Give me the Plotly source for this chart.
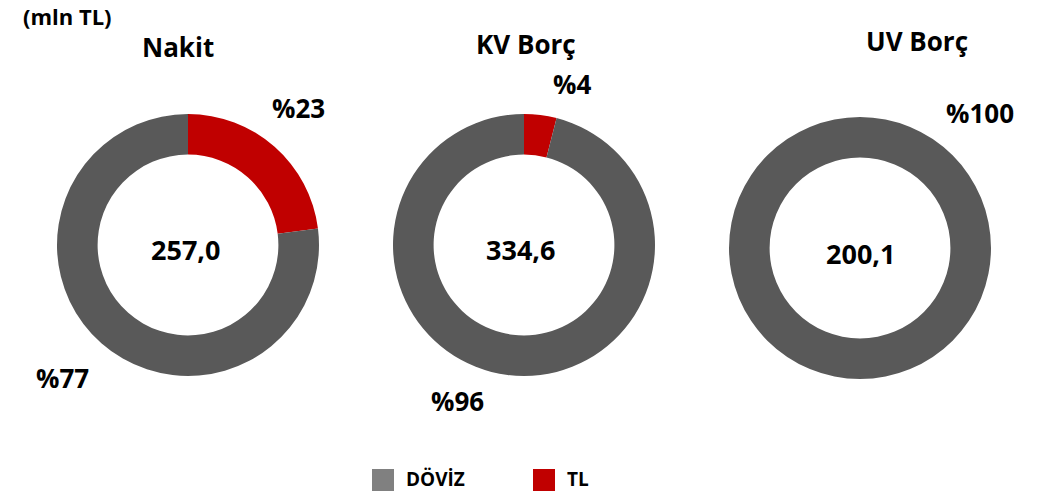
import plotly.graph_objects as go

# Shares of TL vs foreign currency (percent) for each item
categories = ["TL", "DÖVİZ"]
titles = ["Nakit", "KV Borç", "UV Borç"]
totals = ["257,0", "334,6", "200,1"]
tl_share = [23, 4, 0]
fx_share = [77, 96, 100]

pie_colors = ["#C00000", "#595959"]
legend_colors = {"DÖVİZ": "#808080", "TL": "#C00000"}
FONT = "'Open Sans', Calibri, sans-serif"

W, H = 1038, 497
centers = [(188, 245), (524, 245), (860, 248)]
R = 131


def px_x(x):
    return x / W


def px_y(y):
    return 1 - y / H


fig = go.Figure()
for i, (cx, cy) in enumerate(centers):
    fig.add_trace(go.Pie(
        labels=categories,
        values=[tl_share[i], fx_share[i]],
        sort=False,
        direction="clockwise",
        rotation=0,
        hole=0.69,
        textinfo="none",
        hoverinfo="label+percent",
        showlegend=False,
        marker=dict(colors=pie_colors, line=dict(width=0)),
        domain=dict(x=[px_x(cx - R), px_x(cx + R)], y=[px_y(cy + R), px_y(cy - R)]),
    ))

annotations = []


def text(x, y, s, size=26, anchor="center", vanchor="middle"):
    annotations.append(dict(
        x=px_x(x), y=px_y(y), xref="paper", yref="paper", text=s, showarrow=False,
        xanchor=anchor, yanchor=vanchor, borderpad=0,
        font=dict(family=FONT, size=size, color="#000000", weight="bold"),
    ))


text(67, 0, "(mln TL)", size=22, vanchor="top")
title_pos = [(178, 47), (526, 44), (917, 41)]
for (x, y), t in zip(title_pos, titles):
    text(x, y, t)
total_pos = [(185, 250), (520, 250), (860, 253)]
for (x, y), t in zip(total_pos, totals):
    text(x, y, t, size=27)

# Share labels outside the rings
tl_pos = [(298, 108), (572, 84), None]
fx_pos = [(62, 378), (457, 401), (980, 113)]
for i in range(3):
    if tl_share[i] > 0 and tl_pos[i]:
        text(*tl_pos[i], "%" + str(tl_share[i]))
    text(*fx_pos[i], "%" + str(fx_share[i]))

# Legend
shapes = []
legend_items = [("DÖVİZ", 372), ("TL", 533)]
for name, x0 in legend_items:
    shapes.append(dict(type="rect", xref="paper", yref="paper",
                       x0=px_x(x0), x1=px_x(x0 + 22), y0=px_y(491), y1=px_y(469),
                       fillcolor=legend_colors[name], line=dict(width=0)))
    text(x0 + 33, 479, name, size=19, anchor="left")

fig.update_layout(
    width=W, height=H,
    margin=dict(l=0, r=0, t=0, b=0),
    paper_bgcolor="white", plot_bgcolor="white",
    annotations=annotations, shapes=shapes,
)
fig.write_html("out.html")
